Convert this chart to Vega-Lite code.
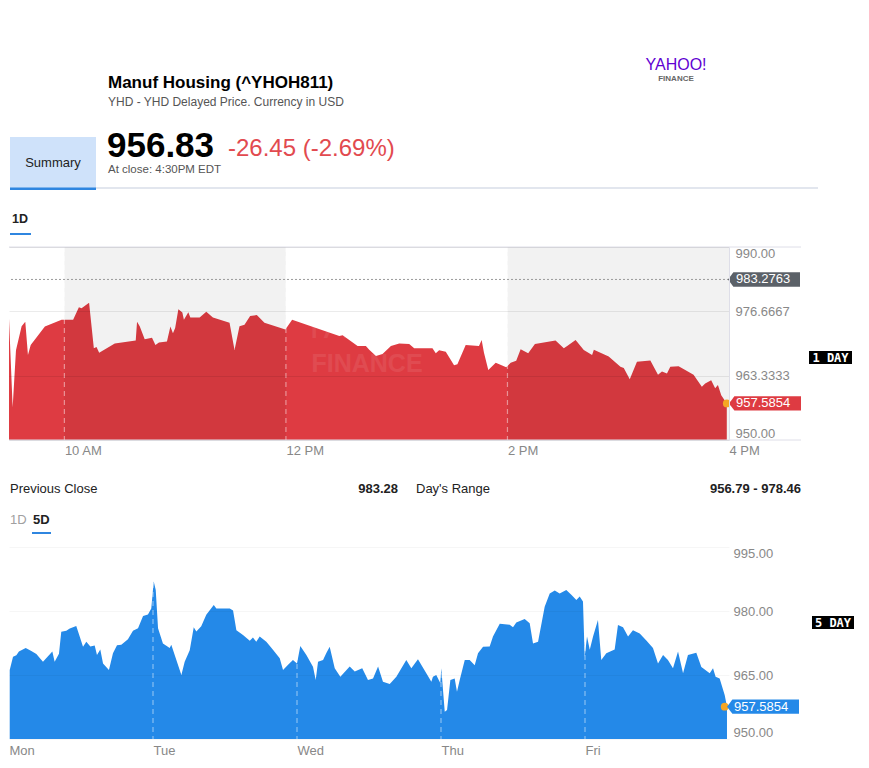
{
  "$schema": "https://vega.github.io/schema/vega-lite/v6.json",
  "background": "white",
  "padding": {"left": 8, "top": 0, "right": 0, "bottom": 0},
  "bounds": "flush",
  "spacing": 0,
  "config": {
    "view": {"stroke": null},
    "font": "Liberation Sans",
    "axis": {"labelFont": "Liberation Sans", "titleFont": "Liberation Sans"}
  },
  "vconcat": [
    {
      "width": 720,
      "height": 247,
      "layer": [
        {"data": {"values": [{"item": "Summary tab"}]}, "mark": {"type": "rect", "color": "#cfe2fa"}, "encoding": {"x": {"value": 1}, "x2": {"value": 87}, "y": {"value": 137}, "y2": {"value": 188}}},
        {"data": {"values": [{"label": "Summary"}]}, "mark": {"type": "text", "align": "center", "baseline": "middle", "fontSize": 13, "color": "#222"}, "encoding": {"text": {"field": "label"}, "x": {"value": 44}, "y": {"value": 163}}},
        {"data": {"values": [{"item": "tab line"}]}, "mark": {"type": "rect", "color": "#e2e6ee"}, "encoding": {"x": {"value": 87}, "x2": {"value": 809}, "y": {"value": 187}, "y2": {"value": 189}}},
        {"data": {"values": [{"item": "active tab"}]}, "mark": {"type": "rect", "color": "#2f86e0"}, "encoding": {"x": {"value": 1}, "x2": {"value": 87}, "y": {"value": 187.5}, "y2": {"value": 190}}},
        {"data": {"values": [{"label": "Manuf Housing (^YHOH811)"}]}, "mark": {"type": "text", "align": "left", "baseline": "middle", "fontSize": 17, "fontWeight": "bold", "color": "#000"}, "encoding": {"text": {"field": "label"}, "x": {"value": 99}, "y": {"value": 83}}},
        {"data": {"values": [{"label": "YHD - YHD Delayed Price. Currency in USD"}]}, "mark": {"type": "text", "align": "left", "baseline": "middle", "fontSize": 12, "color": "#555"}, "encoding": {"text": {"field": "label"}, "x": {"value": 99}, "y": {"value": 102}}},
        {"data": {"values": [{"label": "956.83"}]}, "mark": {"type": "text", "align": "left", "baseline": "middle", "fontSize": 35, "fontWeight": "bold", "color": "#000"}, "encoding": {"text": {"field": "label"}, "x": {"value": 98}, "y": {"value": 146}}},
        {"data": {"values": [{"label": "-26.45 (-2.69%)"}]}, "mark": {"type": "text", "align": "left", "baseline": "middle", "fontSize": 24, "color": "#e24a4f"}, "encoding": {"text": {"field": "label"}, "x": {"value": 219}, "y": {"value": 149}}},
        {"data": {"values": [{"label": "At close: 4:30PM EDT"}]}, "mark": {"type": "text", "align": "left", "baseline": "middle", "fontSize": 11.5, "color": "#555"}, "encoding": {"text": {"field": "label"}, "x": {"value": 99}, "y": {"value": 170}}},
        {"data": {"values": [{"label": "YAHOO!"}]}, "mark": {"type": "text", "align": "center", "baseline": "middle", "fontSize": 16, "color": "#6001d2"}, "encoding": {"text": {"field": "label"}, "x": {"value": 667}, "y": {"value": 65}}},
        {"data": {"values": [{"label": "FINANCE"}]}, "mark": {"type": "text", "align": "center", "baseline": "middle", "fontSize": 8, "fontWeight": "bold", "color": "#666"}, "encoding": {"text": {"field": "label"}, "x": {"value": 667}, "y": {"value": 78.5}}},
        {"data": {"values": [{"label": "1D"}]}, "mark": {"type": "text", "align": "left", "baseline": "middle", "fontSize": 12.5, "fontWeight": "bold", "color": "#222"}, "encoding": {"text": {"field": "label"}, "x": {"value": 3}, "y": {"value": 219}}},
        {"data": {"values": [{"item": "1D underline"}]}, "mark": {"type": "rect", "color": "#2f86e0"}, "encoding": {"x": {"value": 1}, "x2": {"value": 22}, "y": {"value": 233}, "y2": {"value": 235}}}
      ]
    },
    {
      "width": 720,
      "height": 193,
      "layer": [
        {
          "data": {"values": [
            {"h": 9.5, "p": 975.2}, {"h": 9.533, "p": 956.8}, {"h": 9.563, "p": 968.6}, {"h": 9.614, "p": 973.6}, {"h": 9.647, "p": 974.5}, {"h": 9.671, "p": 967.6}, {"h": 9.696, "p": 969.7}, {"h": 9.824, "p": 973.5}, {"h": 9.975, "p": 974.9}, {"h": 10.079, "p": 974.9},
            {"h": 10.131, "p": 977.5}, {"h": 10.155, "p": 977.3}, {"h": 10.223, "p": 978.46}, {"h": 10.266, "p": 969.0}, {"h": 10.29, "p": 969.3}, {"h": 10.314, "p": 968.1}, {"h": 10.455, "p": 970.0}, {"h": 10.644, "p": 970.6}, {"h": 10.656, "p": 974.5}, {"h": 10.68, "p": 973.6},
            {"h": 10.725, "p": 970.9}, {"h": 10.791, "p": 971.2}, {"h": 10.822, "p": 969.7}, {"h": 10.854, "p": 970.2}, {"h": 10.926, "p": 970.4}, {"h": 10.957, "p": 973.5}, {"h": 10.98, "p": 972.1}, {"h": 11.0, "p": 973.2}, {"h": 11.029, "p": 977.1}, {"h": 11.065, "p": 976.4},
            {"h": 11.079, "p": 974.9}, {"h": 11.119, "p": 976.5}, {"h": 11.137, "p": 975.4}, {"h": 11.221, "p": 975.4}, {"h": 11.281, "p": 976.6}, {"h": 11.341, "p": 975.4}, {"h": 11.491, "p": 974.3}, {"h": 11.536, "p": 968.65}, {"h": 11.581, "p": 973.6}, {"h": 11.626, "p": 973.9},
            {"h": 11.677, "p": 975.7}, {"h": 11.737, "p": 975.9}, {"h": 11.806, "p": 974.3}, {"h": 11.995, "p": 972.9}, {"h": 12.056, "p": 974.9}, {"h": 12.482, "p": 971.55}, {"h": 12.512, "p": 971.7}, {"h": 12.647, "p": 969.5}, {"h": 12.722, "p": 969.5}, {"h": 12.752, "p": 968.7},
            {"h": 12.813, "p": 967.4}, {"h": 12.872, "p": 967.8}, {"h": 12.948, "p": 969.5}, {"h": 13.023, "p": 970.0}, {"h": 13.113, "p": 969.9}, {"h": 13.158, "p": 969.0}, {"h": 13.323, "p": 969.0}, {"h": 13.353, "p": 968.0}, {"h": 13.383, "p": 968.6}, {"h": 13.443, "p": 968.3},
            {"h": 13.518, "p": 965.5}, {"h": 13.548, "p": 965.7}, {"h": 13.623, "p": 969.7}, {"h": 13.743, "p": 969.5}, {"h": 13.767, "p": 970.7}, {"h": 13.788, "p": 968.1}, {"h": 13.827, "p": 964.5}, {"h": 13.894, "p": 966.0}, {"h": 13.989, "p": 965.1}, {"h": 14.029, "p": 966.0},
            {"h": 14.079, "p": 966.4}, {"h": 14.119, "p": 968.8}, {"h": 14.187, "p": 968.0}, {"h": 14.248, "p": 969.9}, {"h": 14.434, "p": 970.6}, {"h": 14.509, "p": 969.0}, {"h": 14.539, "p": 969.5}, {"h": 14.615, "p": 970.7}, {"h": 14.689, "p": 968.65}, {"h": 14.764, "p": 967.6},
            {"h": 14.78, "p": 968.7}, {"h": 14.914, "p": 967.3}, {"h": 15.02, "p": 965.2}, {"h": 15.05, "p": 964.9}, {"h": 15.104, "p": 962.6}, {"h": 15.169, "p": 966.2}, {"h": 15.29, "p": 966.5}, {"h": 15.359, "p": 963.5}, {"h": 15.395, "p": 964.2}, {"h": 15.44, "p": 963.8},
            {"h": 15.47, "p": 965.2}, {"h": 15.545, "p": 965.3}, {"h": 15.605, "p": 964.5}, {"h": 15.68, "p": 963.5}, {"h": 15.755, "p": 961.05}, {"h": 15.785, "p": 961.7}, {"h": 15.839, "p": 962.4}, {"h": 15.875, "p": 960.7}, {"h": 15.9, "p": 961.4}, {"h": 15.93, "p": 959.3},
            {"h": 15.98, "p": 957.5854}
          ]},
          "mark": {"type": "area", "color": "#de3b42", "opacity": 1, "clip": true, "interpolate": "linear"},
          "encoding": {
            "x": {"field": "h", "type": "quantitative", "title": null, "scale": {"domain": [9.5, 16], "nice": false, "zero": false},
              "axis": {"values": [10, 12, 14, 16], "labelExpr": "datum.value == 10 ? '10 AM' : datum.value == 12 ? '12 PM' : datum.value == 14 ? '2 PM' : '4 PM'", "labelAlign": "left", "labelColor": "#888", "labelFontSize": 13, "ticks": false, "domain": false, "grid": false, "labelPadding": 4, "labelFlush": false, "labelOverlap": false}},
            "y": {"field": "p", "type": "quantitative", "title": null, "scale": {"domain": [950, 990], "nice": false, "zero": false},
              "axis": {"orient": "right", "values": [950, 963.3333333, 976.6666667, 990], "labelExpr": "datum.value % 1 === 0 ? format(datum.value, '.2f') : format(datum.value, '.4f')", "grid": true, "gridColor": "#000", "gridOpacity": 0.08, "domain": true, "domainColor": "#dedee8", "ticks": false, "labelPadding": 6, "labelColor": "#888", "labelFontSize": 13, "labelFlush": true, "labelFlushOffset": 0, "labelOverlap": false, "zindex": 1}}
          }
        },
        {"data": {"values": [{"start": 10, "end": 12}, {"start": 14, "end": 16}]}, "mark": {"type": "rect", "color": "#000", "opacity": 0.05}, "encoding": {"x": {"field": "start", "type": "quantitative", "title": null}, "x2": {"field": "end"}}},
        {"data": {"values": [{"h": 10}, {"h": 12}, {"h": 14}]}, "mark": {"type": "rule", "color": "#ffffff", "opacity": 0.45, "strokeDash": [5, 4], "strokeWidth": 1.2}, "encoding": {"x": {"field": "h", "type": "quantitative", "title": null}}},
        {"data": {"values": [{"p": 983.2763}]}, "mark": {"type": "rule", "color": "#9a9a9a", "strokeDash": [2, 2], "strokeWidth": 1}, "encoding": {"y": {"field": "p", "type": "quantitative", "title": null}}},
        {"data": {"values": [{"p": 950}, {"p": 990}]}, "mark": {"type": "rule", "color": "#dedee8", "strokeWidth": 1}, "encoding": {"y": {"field": "p", "type": "quantitative", "title": null}, "x": {"value": 0}, "x2": {"value": 792}}},
        {"data": {"values": [{"label": "YAHOO!"}]}, "mark": {"type": "text", "align": "center", "baseline": "middle", "fontSize": 36, "color": "#ffffff", "opacity": 0.08}, "encoding": {"text": {"field": "label"}, "x": {"value": 362}, "y": {"value": 80}}},
        {"data": {"values": [{"label": "FINANCE"}]}, "mark": {"type": "text", "align": "center", "baseline": "middle", "fontSize": 25, "fontWeight": "bold", "color": "#ffffff", "opacity": 0.08}, "encoding": {"text": {"field": "label"}, "x": {"value": 358}, "y": {"value": 117}}},
        {"data": {"values": [{"h": 15.98, "p": 957.5854}]}, "mark": {"type": "point", "filled": true, "color": "#f5a623", "opacity": 1, "size": 60}, "encoding": {"x": {"field": "h", "type": "quantitative", "title": null}, "y": {"field": "p", "type": "quantitative", "title": null}}},
        {
          "data": {"values": [{"p": 983.2763, "label": "983.2763"}]},
          "layer": [
            {"mark": {"type": "point", "shape": "M-1,0L-0.85,-0.2L1,-0.2L1,0.2L-0.85,0.2Z", "size": 5184, "filled": true, "color": "#5b6168", "opacity": 1, "strokeWidth": 0}, "encoding": {"x": {"value": 755}, "y": {"field": "p", "type": "quantitative", "title": null}}},
            {"mark": {"type": "text", "align": "left", "baseline": "middle", "fontSize": 13, "color": "#ffffff"}, "encoding": {"x": {"value": 727}, "y": {"field": "p", "type": "quantitative", "title": null}, "text": {"field": "label"}}}
          ]
        },
        {
          "data": {"values": [{"p": 957.5854, "label": "957.5854"}]},
          "layer": [
            {"mark": {"type": "point", "shape": "M-1,0L-0.85,-0.2L1,-0.2L1,0.2L-0.85,0.2Z", "size": 5184, "filled": true, "color": "#de3b42", "opacity": 1, "strokeWidth": 0}, "encoding": {"x": {"value": 756}, "y": {"field": "p", "type": "quantitative", "title": null}}},
            {"mark": {"type": "text", "align": "left", "baseline": "middle", "fontSize": 13, "color": "#ffffff"}, "encoding": {"x": {"value": 727}, "y": {"field": "p", "type": "quantitative", "title": null}, "text": {"field": "label"}}}
          ]
        },
        {"data": {"values": [{"item": "badge"}]}, "mark": {"type": "rect", "color": "#000"}, "encoding": {"x": {"value": 800}, "x2": {"value": 843}, "y": {"value": 104}, "y2": {"value": 117}}},
        {"data": {"values": [{"label": "1 DAY"}]}, "mark": {"type": "text", "align": "center", "baseline": "middle", "font": "DejaVu Sans Mono", "fontSize": 12, "fontWeight": "bold", "color": "#ffffff"}, "encoding": {"text": {"field": "label"}, "x": {"value": 821.5}, "y": {"value": 110.5}}}
      ]
    },
    {
      "width": 720,
      "height": 107,
      "layer": [
        {"data": {"values": [{"label": "Previous Close"}]}, "mark": {"type": "text", "align": "left", "baseline": "middle", "fontSize": 13, "color": "#222"}, "encoding": {"text": {"field": "label"}, "x": {"value": 1}, "y": {"value": 49}}},
        {"data": {"values": [{"label": "983.28"}]}, "mark": {"type": "text", "align": "right", "baseline": "middle", "fontSize": 13, "fontWeight": "bold", "color": "#222"}, "encoding": {"text": {"field": "label"}, "x": {"value": 389}, "y": {"value": 49}}},
        {"data": {"values": [{"label": "Day's Range"}]}, "mark": {"type": "text", "align": "left", "baseline": "middle", "fontSize": 13, "color": "#222"}, "encoding": {"text": {"field": "label"}, "x": {"value": 407}, "y": {"value": 49}}},
        {"data": {"values": [{"label": "956.79 - 978.46"}]}, "mark": {"type": "text", "align": "right", "baseline": "middle", "fontSize": 13, "fontWeight": "bold", "color": "#222"}, "encoding": {"text": {"field": "label"}, "x": {"value": 792}, "y": {"value": 49}}},
        {"data": {"values": [{"label": "1D"}]}, "mark": {"type": "text", "align": "left", "baseline": "middle", "fontSize": 13, "color": "#a0a0a0"}, "encoding": {"text": {"field": "label"}, "x": {"value": 1}, "y": {"value": 80}}},
        {"data": {"values": [{"label": "5D"}]}, "mark": {"type": "text", "align": "left", "baseline": "middle", "fontSize": 13, "fontWeight": "bold", "color": "#222"}, "encoding": {"text": {"field": "label"}, "x": {"value": 24}, "y": {"value": 80}}},
        {"data": {"values": [{"item": "5D underline"}]}, "mark": {"type": "rect", "color": "#2f86e0"}, "encoding": {"x": {"value": 23}, "x2": {"value": 42}, "y": {"value": 92}, "y2": {"value": 94}}}
      ]
    },
    {
      "width": 720,
      "height": 192,
      "layer": [
        {
          "data": {"values": [
            {"d": 0.005, "p": 966.2}, {"d": 0.028, "p": 969.3}, {"d": 0.051, "p": 969.6}, {"d": 0.069, "p": 970.5}, {"d": 0.116, "p": 971.3}, {"d": 0.155, "p": 970.6}, {"d": 0.19, "p": 969.9}, {"d": 0.236, "p": 968.1}, {"d": 0.301, "p": 970.5}, {"d": 0.317, "p": 968.1},
            {"d": 0.347, "p": 970.0}, {"d": 0.363, "p": 975.15}, {"d": 0.398, "p": 975.4}, {"d": 0.422, "p": 975.9}, {"d": 0.467, "p": 976.5}, {"d": 0.491, "p": 974.0}, {"d": 0.514, "p": 971.6}, {"d": 0.537, "p": 972.8}, {"d": 0.565, "p": 971.7}, {"d": 0.595, "p": 971.9},
            {"d": 0.611, "p": 969.7}, {"d": 0.634, "p": 971.0}, {"d": 0.653, "p": 967.7}, {"d": 0.694, "p": 966.2}, {"d": 0.722, "p": 970.1}, {"d": 0.75, "p": 972.0}, {"d": 0.78, "p": 972.1}, {"d": 0.826, "p": 973.4}, {"d": 0.861, "p": 975.4}, {"d": 0.896, "p": 975.95},
            {"d": 0.931, "p": 978.8}, {"d": 0.965, "p": 979.2}, {"d": 0.988, "p": 980.6}, {"d": 1.005, "p": 986.9}, {"d": 1.019, "p": 984.9}, {"d": 1.035, "p": 975.95}, {"d": 1.069, "p": 972.4}, {"d": 1.116, "p": 971.3}, {"d": 1.127, "p": 972.1}, {"d": 1.197, "p": 965.0},
            {"d": 1.22, "p": 968.1}, {"d": 1.255, "p": 970.8}, {"d": 1.283, "p": 976.2}, {"d": 1.301, "p": 975.2}, {"d": 1.335, "p": 976.4}, {"d": 1.37, "p": 979.1}, {"d": 1.422, "p": 981.4}, {"d": 1.44, "p": 980.6}, {"d": 1.533, "p": 980.6}, {"d": 1.556, "p": 980.1},
            {"d": 1.579, "p": 975.5}, {"d": 1.625, "p": 974.4}, {"d": 1.672, "p": 973.0}, {"d": 1.694, "p": 973.8}, {"d": 1.717, "p": 972.8}, {"d": 1.741, "p": 974.0}, {"d": 1.787, "p": 972.8}, {"d": 1.833, "p": 970.9}, {"d": 1.88, "p": 968.9}, {"d": 1.903, "p": 966.2},
            {"d": 1.938, "p": 967.4}, {"d": 1.972, "p": 968.5}, {"d": 2.0, "p": 967.7}, {"d": 2.023, "p": 971.8}, {"d": 2.065, "p": 969.7}, {"d": 2.111, "p": 966.95}, {"d": 2.13, "p": 963.8}, {"d": 2.146, "p": 968.1}, {"d": 2.181, "p": 968.5}, {"d": 2.203, "p": 970.1},
            {"d": 2.227, "p": 971.6}, {"d": 2.262, "p": 966.6}, {"d": 2.301, "p": 964.6}, {"d": 2.366, "p": 967.0}, {"d": 2.401, "p": 965.8}, {"d": 2.453, "p": 966.6}, {"d": 2.493, "p": 963.8}, {"d": 2.528, "p": 964.2}, {"d": 2.563, "p": 967.0}, {"d": 2.597, "p": 963.4},
            {"d": 2.644, "p": 962.9}, {"d": 2.69, "p": 964.6}, {"d": 2.759, "p": 968.5}, {"d": 2.794, "p": 966.6}, {"d": 2.84, "p": 968.7}, {"d": 2.898, "p": 965.4}, {"d": 2.933, "p": 963.4}, {"d": 2.944, "p": 964.6}, {"d": 2.967, "p": 965.0}, {"d": 2.995, "p": 963.1},
            {"d": 3.002, "p": 966.6}, {"d": 3.026, "p": 956.4}, {"d": 3.042, "p": 956.8}, {"d": 3.065, "p": 963.8}, {"d": 3.095, "p": 964.2}, {"d": 3.111, "p": 961.1}, {"d": 3.13, "p": 963.8}, {"d": 3.165, "p": 968.5}, {"d": 3.199, "p": 968.5}, {"d": 3.234, "p": 967.3},
            {"d": 3.257, "p": 970.1}, {"d": 3.292, "p": 971.6}, {"d": 3.338, "p": 971.7}, {"d": 3.361, "p": 974.0}, {"d": 3.408, "p": 977.0}, {"d": 3.477, "p": 976.8}, {"d": 3.5, "p": 976.2}, {"d": 3.523, "p": 977.3}, {"d": 3.581, "p": 978.1}, {"d": 3.616, "p": 977.1},
            {"d": 3.639, "p": 972.4}, {"d": 3.674, "p": 972.8}, {"d": 3.72, "p": 981.0}, {"d": 3.755, "p": 984.1}, {"d": 3.79, "p": 984.8}, {"d": 3.824, "p": 984.1}, {"d": 3.87, "p": 984.9}, {"d": 3.905, "p": 983.8}, {"d": 3.94, "p": 982.6}, {"d": 3.963, "p": 983.4},
            {"d": 3.986, "p": 982.2}, {"d": 3.998, "p": 969.3}, {"d": 4.014, "p": 974.0}, {"d": 4.033, "p": 970.9}, {"d": 4.056, "p": 974.0}, {"d": 4.09, "p": 977.9}, {"d": 4.113, "p": 968.5}, {"d": 4.148, "p": 970.1}, {"d": 4.206, "p": 971.0}, {"d": 4.229, "p": 976.7},
            {"d": 4.264, "p": 976.2}, {"d": 4.299, "p": 974.0}, {"d": 4.333, "p": 975.5}, {"d": 4.38, "p": 974.7}, {"d": 4.426, "p": 973.1}, {"d": 4.472, "p": 971.3}, {"d": 4.507, "p": 967.7}, {"d": 4.542, "p": 969.7}, {"d": 4.576, "p": 968.5}, {"d": 4.611, "p": 966.6},
            {"d": 4.646, "p": 970.5}, {"d": 4.681, "p": 965.4}, {"d": 4.715, "p": 969.7}, {"d": 4.773, "p": 970.2}, {"d": 4.808, "p": 966.9}, {"d": 4.866, "p": 965.4}, {"d": 4.889, "p": 966.6}, {"d": 4.907, "p": 964.6}, {"d": 4.935, "p": 964.2}, {"d": 4.97, "p": 960.3},
            {"d": 4.986, "p": 957.5854}
          ]},
          "mark": {"type": "area", "color": "#2489e8", "opacity": 1, "clip": true, "interpolate": "linear"},
          "encoding": {
            "x": {"field": "d", "type": "quantitative", "title": null, "scale": {"domain": [0, 5], "nice": false, "zero": false},
              "axis": {"values": [0, 1, 2, 3, 4], "labelExpr": "['Mon', 'Tue', 'Wed', 'Thu', 'Fri'][round(datum.value)]", "labelAlign": "left", "labelColor": "#888", "labelFontSize": 13, "ticks": false, "domain": false, "grid": false, "labelPadding": 5, "labelFlush": false, "labelOverlap": false}},
            "y": {"field": "p", "type": "quantitative", "title": null, "scale": {"domain": [950, 995], "nice": false, "zero": false},
              "axis": {"orient": "right", "values": [950, 965, 980, 995], "format": ".2f", "grid": true, "gridColor": "#000", "gridOpacity": 0.035, "domain": false, "ticks": false, "labelPadding": 4, "labelColor": "#888", "labelFontSize": 13, "labelFlush": true, "labelFlushOffset": 0, "labelOverlap": false, "zindex": 1}}
          }
        },
        {"data": {"values": [{"d": 1}, {"d": 2}, {"d": 3}, {"d": 4}]}, "mark": {"type": "rule", "color": "#ffffff", "opacity": 0.45, "strokeDash": [5, 4], "strokeWidth": 1.2}, "encoding": {"x": {"field": "d", "type": "quantitative", "title": null}}},
        {"data": {"values": [{"d": 4.97, "p": 957.5854}]}, "mark": {"type": "point", "filled": true, "color": "#f5a623", "opacity": 1, "size": 60}, "encoding": {"x": {"field": "d", "type": "quantitative", "title": null}, "y": {"field": "p", "type": "quantitative", "title": null}}},
        {
          "data": {"values": [{"p": 957.5854, "label": "957.5854"}]},
          "layer": [
            {"mark": {"type": "point", "shape": "M-1,0L-0.85,-0.2L1,-0.2L1,0.2L-0.85,0.2Z", "size": 5184, "filled": true, "color": "#2489e8", "opacity": 1, "strokeWidth": 0}, "encoding": {"x": {"value": 754}, "y": {"field": "p", "type": "quantitative", "title": null}}},
            {"mark": {"type": "text", "align": "left", "baseline": "middle", "fontSize": 13, "color": "#ffffff"}, "encoding": {"x": {"value": 725}, "y": {"field": "p", "type": "quantitative", "title": null}, "text": {"field": "label"}}}
          ]
        },
        {"data": {"values": [{"item": "badge"}]}, "mark": {"type": "rect", "color": "#000"}, "encoding": {"x": {"value": 803}, "x2": {"value": 845}, "y": {"value": 69}, "y2": {"value": 82}}},
        {"data": {"values": [{"label": "5 DAY"}]}, "mark": {"type": "text", "align": "center", "baseline": "middle", "font": "DejaVu Sans Mono", "fontSize": 12, "fontWeight": "bold", "color": "#ffffff"}, "encoding": {"text": {"field": "label"}, "x": {"value": 824}, "y": {"value": 75.5}}}
      ]
    }
  ]
}
